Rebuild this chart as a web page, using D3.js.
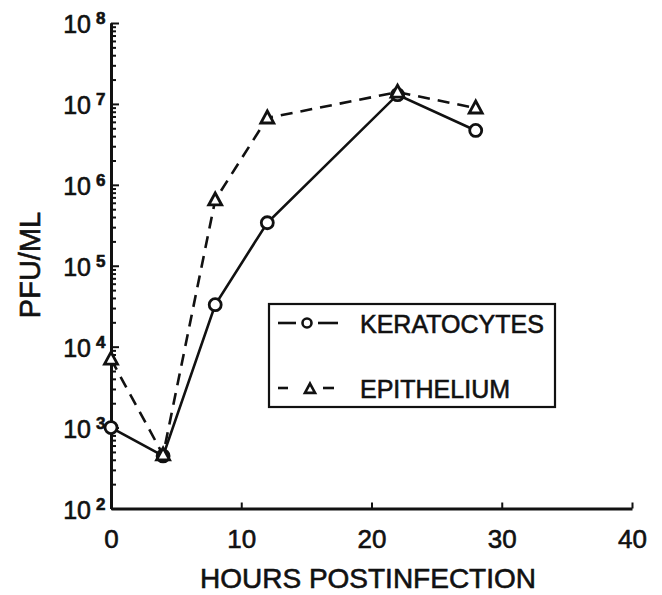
<!DOCTYPE html>
<html>
<head>
<meta charset="utf-8">
<script src="https://cdn.jsdelivr.net/npm/d3@7/dist/d3.min.js"></script>
<style>
  html, body { margin: 0; padding: 0; background: #fff; }
  svg { display: block; }
  text { font-family: "Liberation Sans", Arial, Helvetica, sans-serif; fill: #111; stroke: #111; stroke-width: 0.6px; }
</style>
</head>
<body>
<svg id="chart" width="662" height="595"></svg>
<script>
// ---- data ----
const hours = [0, 4, 8, 12, 22, 28];
const keratocytes = [1000, 446, 3.3e4, 3.4e5, 1.3e7, 4.7e6];
const epithelium = [7000, 460, 6.5e5, 6.7e6, 1.4e7, 8.9e6];
const xTicks = [0, 10, 20, 30, 40];
const yExponents = [2, 3, 4, 5, 6, 7, 8];
const seriesNames = ["KERATOCYTES", "EPITHELIUM"];
const xTitle = "HOURS POSTINFECTION";
const yTitle = "PFU/ML";

const svg = d3.select("#chart");
const ink = "#111";

const x = d3.scaleLinear().domain([0, 40]).range([111, 632]);
const y = d3.scaleLog().domain([1e2, 1e8]).range([508.5, 23]);

// minor tick values
const minor = [];
for (let e = 2; e < 8; e++) for (let k = 2; k <= 9; k++) minor.push(k * Math.pow(10, e));
const major = yExponents.map(e => Math.pow(10, e));

// y axis (ticks pointing right / inside)
const gYmin = svg.append("g").attr("transform", `translate(${x(0)},0)`)
  .call(d3.axisRight(y).tickValues(minor).tickSize(5).tickSizeOuter(0).tickFormat(""));
const gYmaj = svg.append("g").attr("transform", `translate(${x(0)},0)`)
  .call(d3.axisRight(y).tickValues(major).tickSize(8).tickSizeOuter(0).tickFormat(""));
[gYmin, gYmaj].forEach(g => {
  g.select(".domain").attr("stroke", ink).attr("stroke-width", 3);
  g.selectAll(".tick line").attr("stroke", ink).attr("stroke-width", 2);
});

// y labels 10^n
const yl = svg.append("g");
yExponents.forEach(e => {
  const yy = y(Math.pow(10, e));
  yl.append("text").attr("x", 91).attr("y", yy + 10)
    .attr("text-anchor", "end").attr("font-size", 25).text("10");
  yl.append("text").attr("x", 96).attr("y", yy + 1)
    .attr("text-anchor", "start").attr("font-size", 17).attr("font-weight", "bold").text(e);
});

// x axis (ticks pointing up)
const gX = svg.append("g").attr("transform", `translate(0,${y(1e2)})`)
  .call(d3.axisBottom(x).tickValues(xTicks).tickSize(-6).tickSizeOuter(0).tickPadding(21).tickFormat(d3.format("d")));
gX.select(".domain").attr("stroke", ink).attr("stroke-width", 3);
gX.selectAll(".tick line").attr("stroke", ink).attr("stroke-width", 2);
gX.selectAll(".tick text").attr("font-size", 26).attr("fill", ink).attr("stroke", ink).attr("stroke-width", 0.6)
  .style("font-family", '"Liberation Sans", Arial, sans-serif');

// titles
svg.append("text").attr("x", 368).attr("y", 588).attr("text-anchor", "middle")
  .attr("font-size", 28).text(xTitle);
svg.append("text").attr("transform", "translate(40,265) rotate(-90)")
  .attr("text-anchor", "middle").attr("font-size", 29).text(yTitle);

// lines
const line = d3.line().x((d, i) => x(hours[i])).y(d => y(d));
svg.append("path").datum(epithelium).attr("d", line)
  .attr("fill", "none").attr("stroke", ink).attr("stroke-width", 2.6).attr("stroke-dasharray", "12,8");
svg.append("path").datum(keratocytes).attr("d", line)
  .attr("fill", "none").attr("stroke", ink).attr("stroke-width", 2.6);

// markers
const tri = s => `M0,${-7 * s}L${6.5 * s},${5 * s}L${-6.5 * s},${5 * s}Z`;
svg.append("g").selectAll("circle").data(keratocytes).join("circle")
  .attr("cx", (d, i) => x(hours[i])).attr("cy", d => y(d)).attr("r", 6)
  .attr("fill", "#fff").attr("stroke", ink).attr("stroke-width", 2.8);
svg.append("g").selectAll("path").data(epithelium).join("path")
  .attr("transform", (d, i) => `translate(${x(hours[i])},${y(d)})`)
  .attr("d", tri(1)).attr("fill", "#fff").attr("stroke", ink).attr("stroke-width", 2.8)
  .attr("stroke-linejoin", "miter");

// legend
const lg = svg.append("g");
lg.append("rect").attr("x", 269).attr("y", 304).attr("width", 286).attr("height", 103)
  .attr("fill", "#fff").attr("stroke", ink).attr("stroke-width", 2.2);
// row 1
lg.append("line").attr("x1", 278).attr("x2", 296).attr("y1", 323).attr("y2", 323).attr("stroke", ink).attr("stroke-width", 2.6);
lg.append("line").attr("x1", 318).attr("x2", 338).attr("y1", 323).attr("y2", 323).attr("stroke", ink).attr("stroke-width", 2.6);
lg.append("circle").attr("cx", 307).attr("cy", 323).attr("r", 4.5).attr("fill", "#fff").attr("stroke", ink).attr("stroke-width", 2.6);
lg.append("text").attr("x", 360).attr("y", 333).attr("font-size", 25).text(seriesNames[0]);
// row 2
lg.append("line").attr("x1", 278).attr("x2", 288).attr("y1", 388).attr("y2", 388).attr("stroke", ink).attr("stroke-width", 2.6);
lg.append("line").attr("x1", 323).attr("x2", 334).attr("y1", 388).attr("y2", 388).attr("stroke", ink).attr("stroke-width", 2.6);
lg.append("path").attr("transform", "translate(310,389)").attr("d", tri(0.78))
  .attr("fill", "#fff").attr("stroke", ink).attr("stroke-width", 2.6);
lg.append("text").attr("x", 360).attr("y", 398).attr("font-size", 25).text(seriesNames[1]);
</script>
</body>
</html>
